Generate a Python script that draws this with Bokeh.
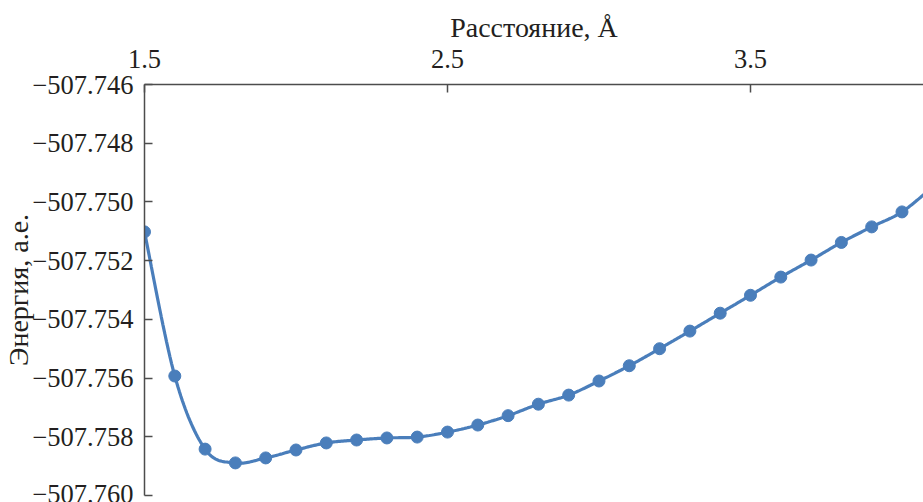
import numpy as np
from bokeh.plotting import figure
from bokeh.models import FixedTicker, CustomJSTickFormatter, Range1d
from bokeh.embed import file_html
from bokeh.resources import INLINE

# ---- data ----
distance = [1.5, 1.6, 1.7, 1.8, 1.9, 2.0, 2.1, 2.2, 2.3, 2.4, 2.5, 2.6, 2.7,
            2.8, 2.9, 3.0, 3.1, 3.2, 3.3, 3.4, 3.5, 3.6, 3.7, 3.8, 3.9, 4.0, 4.1]
energy = [-507.75102, -507.75593, -507.75842, -507.75889, -507.75872, -507.75845,
          -507.75821, -507.75811, -507.75804, -507.75801, -507.75784, -507.75760,
          -507.75728, -507.75689, -507.75658, -507.75610, -507.75558, -507.75500,
          -507.75440, -507.75379, -507.75318, -507.75256, -507.75198, -507.75138,
          -507.75085, -507.75034, -507.74950]
x_ticks = [1.5, 2.5, 3.5]
y_ticks = [-507.760, -507.758, -507.756, -507.754, -507.752, -507.750, -507.748, -507.746]
x_title = "Расстояние, Å"
y_title = "Энергия, а.е."

x_start, x_end = 1.5, 4.071
y_start, y_end = -507.760, -507.746

COLOR = "#4a7ebb"
AXIS = "#4d4d4d"
FONT = "Liberation Serif"


def smooth(xs, ys, n=20):
    """Catmull-Rom smoothing of the line through the data points."""
    xs = np.asarray(xs, float)
    ys = np.asarray(ys, float)
    m = len(xs)
    out_x, out_y = [], []
    for i in range(m - 1):
        i0, i3 = max(i - 1, 0), min(i + 2, m - 1)
        p0, p1, p2, p3 = (np.array([xs[k], ys[k]]) for k in (i0, i, i + 1, i3))
        for t in np.linspace(0, 1, n, endpoint=False):
            t2, t3 = t * t, t * t * t
            pt = 0.5 * ((2 * p1) + (-p0 + p2) * t + (2 * p0 - 5 * p1 + 4 * p2 - p3) * t2
                        + (-p0 + 3 * p1 - 3 * p2 + p3) * t3)
            out_x.append(pt[0])
            out_y.append(pt[1])
    out_x.append(xs[-1])
    out_y.append(ys[-1])
    return out_x, out_y


p = figure(width=923, height=502, output_backend="svg", toolbar_location=None,
           x_range=Range1d(x_start, x_end), y_range=Range1d(y_start, y_end),
           x_axis_location="above",
           min_border_left=144, min_border_top=84, min_border_right=0, min_border_bottom=7)
p.grid.visible = False
p.outline_line_color = None
p.background_fill_color = "white"
p.border_fill_color = "white"

sx, sy = smooth(distance, energy)
p.line(sx, sy, line_color=COLOR, line_width=3.2)
p.scatter(distance, energy, size=12, fill_color=COLOR, line_color=COLOR)

xa = p.xaxis[0]
ya = p.yaxis[0]
xa.ticker = FixedTicker(ticks=x_ticks)
ya.ticker = FixedTicker(ticks=y_ticks)
xa.formatter = CustomJSTickFormatter(code="return tick.toFixed(1);")
ya.formatter = CustomJSTickFormatter(
    code="return (tick < 0 ? '\u2212' : '') + Math.abs(tick).toFixed(3);")
xa.axis_label = x_title
ya.axis_label = y_title

for ax in (xa, ya):
    ax.axis_line_color = AXIS
    ax.axis_line_width = 1.5
    ax.major_tick_line_color = AXIS
    ax.major_tick_line_width = 1.5
    ax.major_tick_in = 8
    ax.major_tick_out = 0
    ax.minor_tick_in = 0
    ax.minor_tick_out = 0
    ax.major_label_text_font = FONT
    ax.major_label_text_font_size = "26.5px"
    ax.major_label_text_color = "#231f20"
    ax.axis_label_text_font = FONT
    ax.axis_label_text_font_size = "28px"
    ax.axis_label_text_font_style = "normal"
    ax.axis_label_text_color = "#231f20"

xa.major_label_standoff = 17
xa.axis_label_standoff = 4
ya.major_label_standoff = 11
ya.axis_label_standoff = -5

open("out.html", "w").write(file_html(p, INLINE))
